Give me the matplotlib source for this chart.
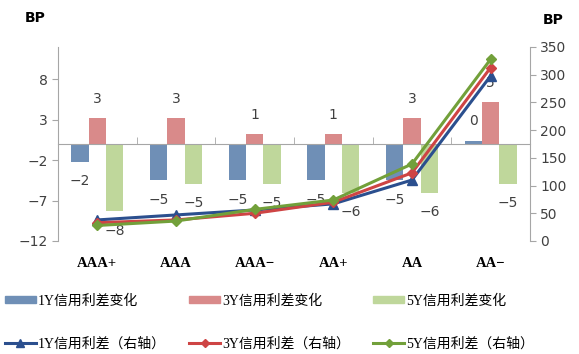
import matplotlib
matplotlib.use("Agg")
import matplotlib.pyplot as plt
import numpy as np
from matplotlib.patches import Patch
from matplotlib.lines import Line2D

plt.rcParams['font.family'] = ['DejaVu Sans', 'Noto Sans CJK SC']

# data
categories = ['AAA+', 'AAA', 'AAA−', 'AA+', 'AA', 'AA−']
chg_1y = [-2.2, -4.5, -4.5, -4.5, -4.5, 0.4]
chg_3y = [3.2, 3.2, 1.2, 1.2, 3.2, 5.2]
chg_5y = [-8.3, -4.9, -4.9, -6.0, -6.0, -4.9]
lbl_1y = [-2, -5, -5, -5, -5, 0]
lbl_3y = [3, 3, 1, 1, 3, 5]
lbl_5y = [-8, -5, -5, -6, -6, -5]
spread_1y = [38, 47, 56, 67, 110, 298]
spread_3y = [33, 38, 50, 70, 123, 313]
spread_5y = [28, 36, 57, 74, 139, 328]

bar_colors = ['#6F8FB6', '#D98A8A', '#BFD79B']
line_colors = ['#2B4F8E', '#CE4444', '#72A03A']
grey = '#A6A6A6'
txt = '#404040'

fig = plt.figure(figsize=(5.79, 3.54), dpi=100)
ax = fig.add_axes([58/579, 1-241/354, 472/579, 194/354])
ax2 = ax.twinx()

x = np.arange(len(categories))
w = 0.22
series = [(chg_1y, lbl_1y), (chg_3y, lbl_3y), (chg_5y, lbl_5y)]
for k, (vals, lbls) in enumerate(series):
    xs = x + (k - 1) * w
    ax.bar(xs, vals, width=w, color=bar_colors[k], zorder=2)
    for xi, v, l in zip(xs, vals, lbls):
        off = 14 if v >= 0 else -14
        s = str(l).replace('-', '−')
        ax.annotate(s, (xi, v), xytext=(0, off), textcoords='offset points',
                    ha='center', va='center', fontsize=10, color=txt)

ax.set_xlim(-0.5, len(categories) - 0.5)
ax.set_ylim(-12, 12)
ax.set_yticks([-12, -7, -2, 3, 8])
ax2.set_ylim(0, 350)
ax2.set_yticks(np.arange(0, 351, 50))

markers = ['^', 'D', 'D']
msizes = [7, 5, 5]
for k, vals in enumerate([spread_1y, spread_3y, spread_5y]):
    ax2.plot(x, vals, color=line_colors[k], lw=2.2, marker=markers[k],
             markersize=msizes[k], zorder=3)

# axes styling
for a in (ax, ax2):
    a.spines['top'].set_visible(False)
    a.spines['left'].set_color(grey)
    a.spines['right'].set_color(grey)
    a.spines['bottom'].set_visible(False)
ax.spines['right'].set_visible(False)
ax2.spines['left'].set_visible(False)
ax.spines['bottom'].set_visible(True)
ax.spines['bottom'].set_position(('data', 0))
ax.spines['bottom'].set_color(grey)

ax.set_xticks([])
ax.set_xticks(np.arange(0.5, len(categories) - 1, 1), minor=True)
ax.tick_params(axis='x', which='minor', direction='in', length=5, color=grey)
ax.tick_params(axis='y', length=4, color=grey, labelsize=10, labelcolor=txt)
ax2.tick_params(axis='y', length=4, color=grey, labelsize=10, labelcolor=txt)

for xi, c in zip(x, categories):
    ax.annotate(c, (xi, 0), xycoords=('data', 'axes fraction'), xytext=(0, -16),
                textcoords='offset points', ha='center', va='center',
                fontsize=10.5, fontweight='bold', family='Liberation Serif', color='black')

fig.text(35/579, 1-18/354, 'BP', fontsize=10, fontweight='bold', ha='center', va='center')
fig.text(553/579, 1-20/354, 'BP', fontsize=10, fontweight='bold', ha='center', va='center')

# legend
handles = [
    Patch(color=bar_colors[0]), Line2D([], [], color=line_colors[0], lw=2.2, marker='^', markersize=6),
    Patch(color=bar_colors[1]), Line2D([], [], color=line_colors[1], lw=2.2, marker='D', markersize=4),
    Patch(color=bar_colors[2]), Line2D([], [], color=line_colors[2], lw=2.2, marker='D', markersize=4),
]
labels = ['1Y信用利差变化', '1Y信用利差（右轴）',
          '3Y信用利差变化', '3Y信用利差（右轴）',
          '5Y信用利差变化', '5Y信用利差（右轴）']
fig.legend(handles, labels, ncol=3, loc='upper left', bbox_to_anchor=(5/579, 1-294/354),
           frameon=False, borderpad=0, borderaxespad=0, handlelength=2.2, handleheight=0.5,
           handletextpad=0.15, columnspacing=1.7, labelspacing=2.15,
           prop={'family': ['Liberation Serif', 'Noto Sans CJK SC'], 'size': 10})

fig.savefig('out.png', dpi=100)
